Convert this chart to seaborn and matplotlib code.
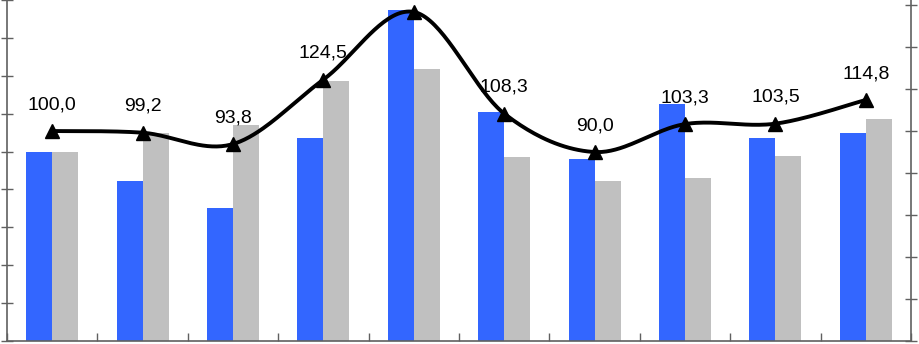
import numpy as np
import pandas as pd
import matplotlib
matplotlib.use('Agg')
from matplotlib import pyplot as plt
import seaborn as sns

# 데이터
groups = ['1', '2', '3', '4', '5', '6', '7', '8', '9', '10']
blue_vals = [100.0, 84.6, 70.4, 107.0, 174.5, 121.1, 96.1, 125.1, 107.3, 109.7]
gray_vals = [100.0, 109.6, 114.0, 137.3, 143.6, 97.0, 84.5, 86.2, 97.7, 117.2]
line_vals = [100.0, 99.2, 93.8, 124.5, 156.7, 108.3, 90.0, 103.3, 103.5, 114.8]
hidden_label = 4  # 꼭대기 값의 라벨은 그림 밖이라 안 보임

df = pd.DataFrame({'group': groups * 2,
                   'series': ['A'] * 10 + ['B'] * 10,
                   'value': blue_vals + gray_vals})

sns.set_style('white')
plt.rcParams['font.family'] = ['Liberation Sans', 'DejaVu Sans']

fig = plt.figure(figsize=(9.19, 3.44), dpi=100)
ax = fig.add_axes([7 / 919, 3 / 344, 904 / 919, 341 / 344])

sns.barplot(data=df, x='group', y='value', hue='series',
            palette=['#3366FF', '#C0C0C0'], width=0.575, saturation=1,
            linewidth=0, legend=False, ax=ax)

ax.set_ylim(0, 180)
ax.set_xlim(-0.5, 9.5)
ax.set_yticks(np.arange(0, 181, 20))
ax.set_yticklabels([])
ax.set_xticks(np.arange(-0.5, 10, 1))
ax.set_xticklabels([])
ax.set_xlabel('')
ax.set_ylabel('')
ax.tick_params(axis='y', direction='inout', length=9, width=1, color='#606060', left=True)
ax.tick_params(axis='x', direction='in', length=6, width=1, color='#606060', bottom=True)

# 오른쪽 축 - 꺾은선
ax2 = ax.twinx()
ax2.set_ylim(0, 162.4)
ax2.set_yticks(np.arange(0, 161, 20))
ax2.set_yticklabels([])
ax2.tick_params(axis='y', direction='inout', length=9, width=1, color='#606060', right=True)

for a in (ax, ax2):
    for side in ('left', 'right', 'bottom'):
        a.spines[side].set_color('#606060')
        a.spines[side].set_linewidth(1.2)
    a.spines['top'].set_visible(False)
ax.spines['right'].set_visible(False)
ax2.spines['left'].set_visible(False)
ax2.spines['bottom'].set_visible(False)

# 부드러운 선 (Catmull-Rom)
x = np.arange(len(line_vals), dtype=float)
y = np.array(line_vals)
px = np.concatenate(([x[0]], x, [x[-1]]))
py = np.concatenate(([y[0]], y, [y[-1]]))
sx, sy = [], []
t = np.linspace(0, 1, 40)
for i in range(1, len(px) - 2):
    p0, p1, p2, p3 = px[i - 1], px[i], px[i + 1], px[i + 2]
    q0, q1, q2, q3 = py[i - 1], py[i], py[i + 1], py[i + 2]
    c1x, c1y = p1 + (p2 - p0) / 6, q1 + (q2 - q0) / 6
    c2x, c2y = p2 - (p3 - p1) / 6, q2 - (q3 - q1) / 6
    bx = (1 - t) ** 3 * p1 + 3 * (1 - t) ** 2 * t * c1x + 3 * (1 - t) * t ** 2 * c2x + t ** 3 * p2
    by = (1 - t) ** 3 * q1 + 3 * (1 - t) ** 2 * t * c1y + 3 * (1 - t) * t ** 2 * c2y + t ** 3 * q2
    sx.extend(bx)
    sy.extend(by)

ax2.plot(sx, sy, color='black', linewidth=2.8, clip_on=False, zorder=5)
ax2.plot(x, y, linestyle='none', marker='^', markersize=10, color='black',
         clip_on=False, zorder=6)

for i, v in enumerate(line_vals):
    if i == hidden_label:
        continue
    ax2.annotate(f'{v:.1f}'.replace('.', ','), (x[i], v), xytext=(0, 19),
                 textcoords='offset points', ha='center', va='center',
                 fontsize=14, color='black', zorder=7)

fig.savefig('out.png', dpi=100)
